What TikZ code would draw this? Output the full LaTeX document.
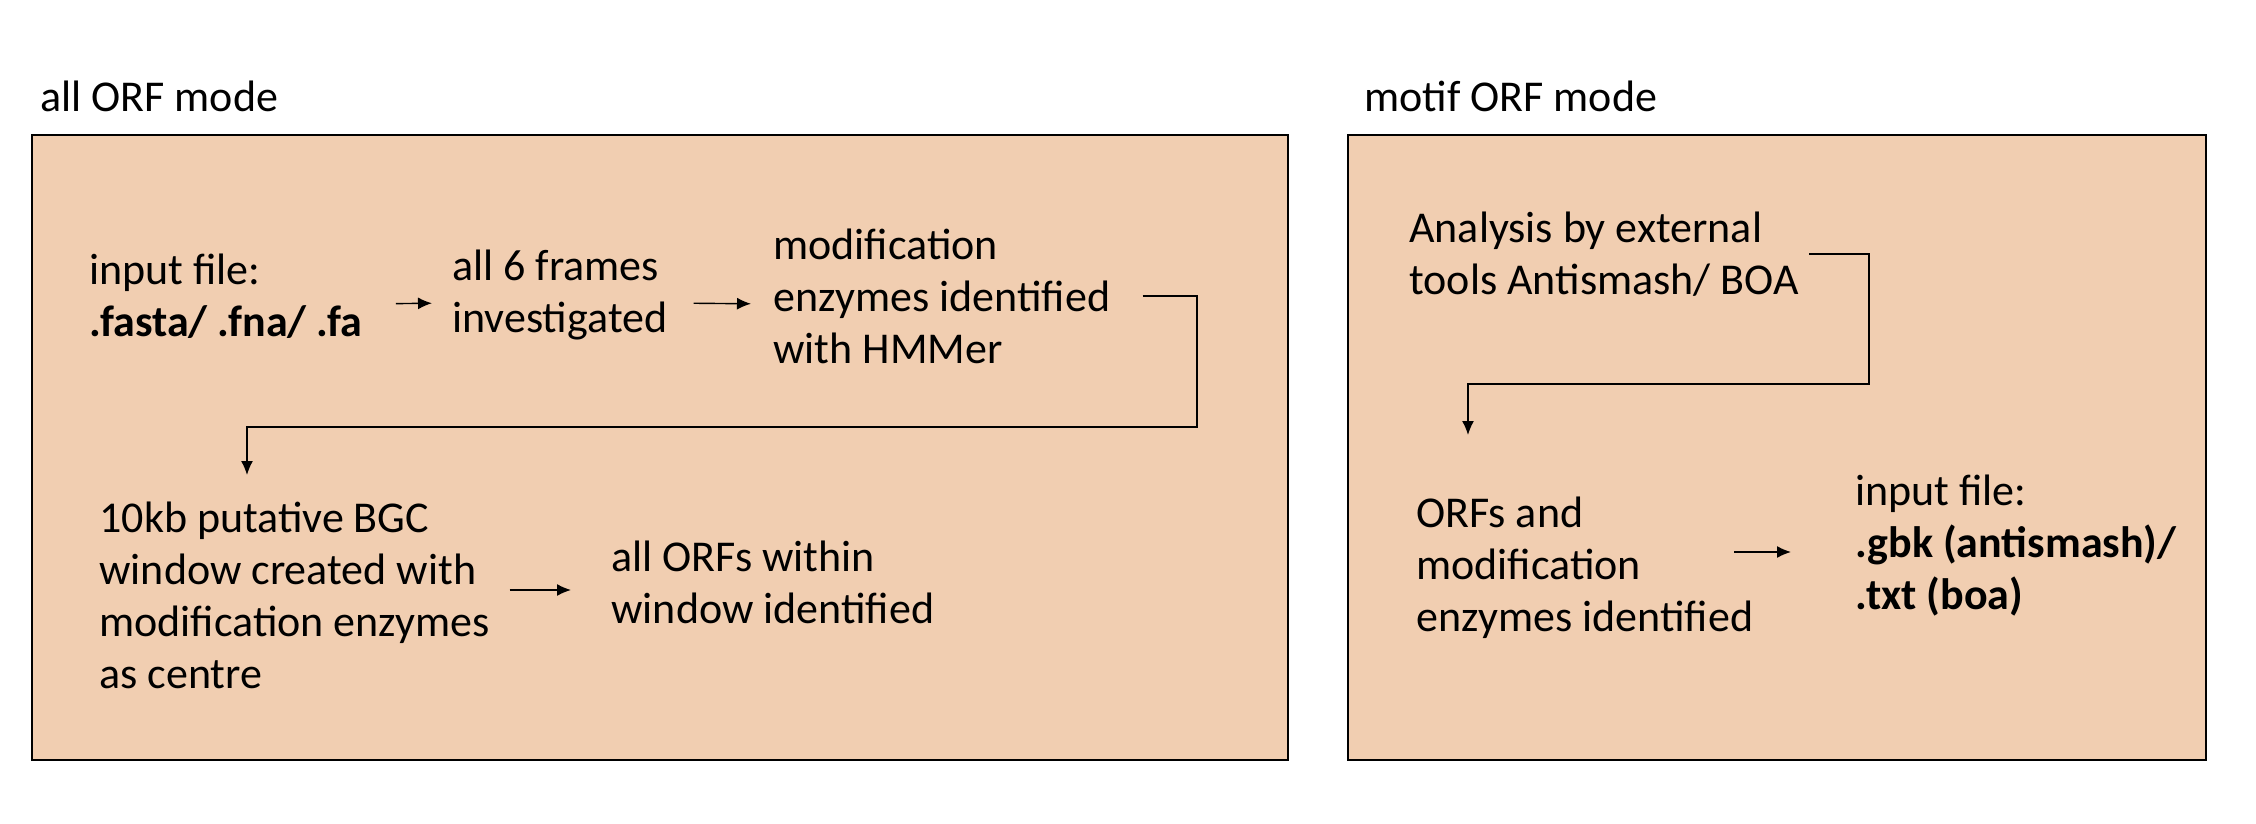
\documentclass[tikz,border=0pt]{standalone}
\usepackage{fontspec}
\setmainfont{Carlito}
\usetikzlibrary{arrows.meta,positioning}
\definecolor{peach}{RGB}{241,206,177}

\begin{document}
\begin{tikzpicture}[x=0.5pt,y=-0.5pt,
    panel/.style={draw=black,line width=1pt,fill=peach},
    txt/.style={anchor=west,align=left,inner sep=0pt,font=\fontsize{22}{26}\selectfont},
    title/.style={anchor=base west,inner sep=0pt,font=\fontsize{22}{26}\selectfont},
    flow/.style={-{Latex[length=7pt,width=6pt]},line width=0.7pt}]
    \useasboundingbox (0,0) rectangle (2256,824);
    % panels
    \draw[panel] (32,135) rectangle (1288,760);
    \draw[panel] (1348,135) rectangle (2206,760);
    \node[title] (allmode) at (40,112) {all ORF mode};
    \node[title] (motifmode) at (1364,112) {motif ORF mode};
    % all ORF mode
    \node[txt] (infile) at (89,296) {input file:\\\textbf{.fasta/ .fna/ .fa}};
    \node[txt] (frames) at (452,295) {all 6 frames\\investigated};
    \node[txt] (hmm) at (773,296) {modification\\enzymes identified\\with HMMer};
    \node[txt] (bgc) at (99,595) {10kb putative BGC\\window created with\\modification enzymes\\as centre};
    \node[txt] (orfs) at (611,582) {all ORFs within\\window identified};
    \draw[flow,shorten <=16.5pt,shorten >=10pt] ([yshift=-4pt]infile.east) -- ([yshift=-4pt]frames.west);
    \draw[flow,shorten <=13pt,shorten >=11pt] ([yshift=-4pt]frames.east) -- ([yshift=-4pt]hmm.west);
    \coordinate (bendA) at (1197,427);
    \coordinate (bgcin) at (247,475);
    \draw[flow] ([xshift=16pt]hmm.east) -| (bendA) -| (bgcin);
    \coordinate (bgcout) at ([yshift=2.5pt]bgc.east);
    \draw[flow,shorten <=9.5pt,shorten >=20pt] (bgcout) -- (bgcout -| orfs.west);
    % motif ORF mode
    \node[txt] (analysis) at (1409,254) {Analysis by external\\tools Antismash/ BOA};
    \node[txt] (orfmod) at (1416,568) {ORFs and\\modification\\enzymes identified};
    \node[txt] (gbk) at (1855,546) {input file:\\\textbf{.gbk (antismash)/}\\\textbf{.txt (boa)}};
    \coordinate (bendB) at (1869,384);
    \coordinate (orfin) at (1468,435);
    \draw[flow] ([xshift=5pt]analysis.east) -| (bendB) -| (orfin);
    \coordinate (orfout) at (1734,552);
    \draw[flow,shorten >=32pt] (orfout) -- (orfout -| gbk.west);
\end{tikzpicture}
\end{document}
